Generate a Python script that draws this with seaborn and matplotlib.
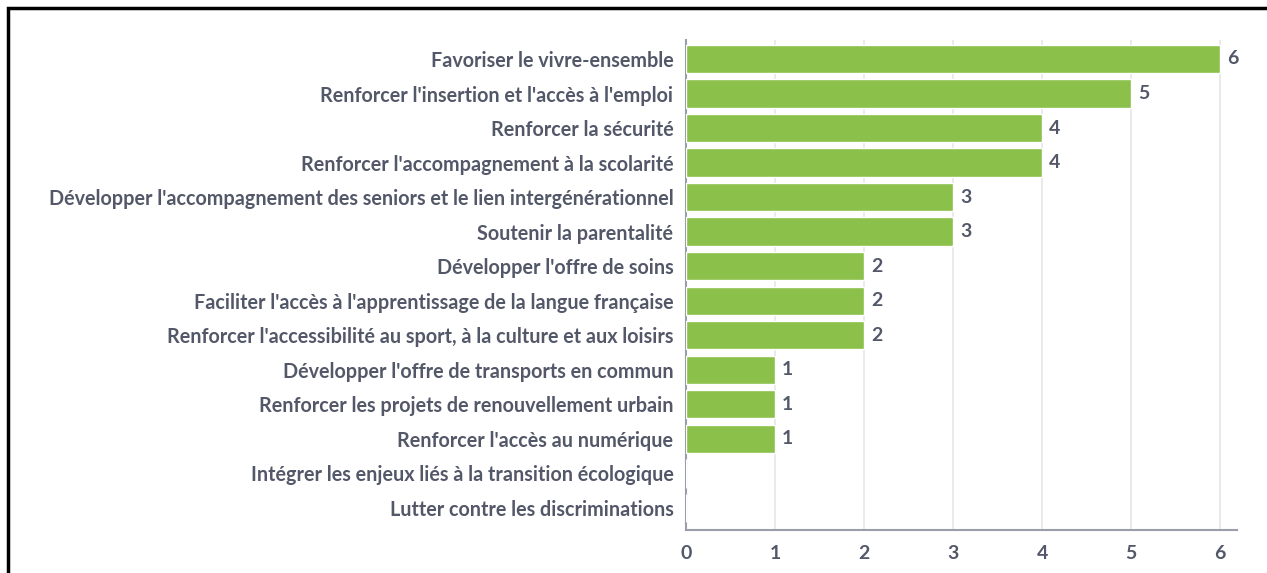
import matplotlib
matplotlib.use('Agg')
import matplotlib.pyplot as plt
import seaborn as sns
import pandas as pd
from matplotlib.patches import Rectangle

categories = [
    "Favoriser le vivre-ensemble",
    "Renforcer l'insertion et l'accès à l'emploi",
    "Renforcer la sécurité",
    "Renforcer l'accompagnement à la scolarité",
    "Développer l'accompagnement des seniors et le lien intergénérationnel",
    "Soutenir la parentalité",
    "Développer l'offre de soins",
    "Faciliter l'accès à l'apprentissage de la langue française",
    "Renforcer l'accessibilité au sport, à la culture et aux loisirs",
    "Développer l'offre de transports en commun",
    "Renforcer les projets de renouvellement urbain",
    "Renforcer l'accès au numérique",
    "Intégrer les enjeux liés à la transition écologique",
    "Lutter contre les discriminations",
]
values = [6, 5, 4, 4, 3, 3, 2, 2, 2, 1, 1, 1, 0, 0]
xticks = [0, 1, 2, 3, 4, 5, 6]

text_color = "#535869"
bar_color = "#8bc04b"

sns.set_style("white")
plt.rcParams['font.family'] = ['Lato', 'DejaVu Sans']

df = pd.DataFrame({"cat": categories, "val": values})

fig = plt.figure(figsize=(12.67, 5.73), dpi=100)
ax = fig.add_axes([686 / 1267, 1 - 530 / 573, (1237 - 686) / 1267, (530 - 40) / 573])

sns.barplot(data=df, x="val", y="cat", color=bar_color, saturation=1,
            width=0.82, ax=ax, zorder=3)

ax.set_xlim(0, 6.19)
ax.set_ylim(13.64, -0.55)
ax.set_xticks(xticks)
ax.set_xlabel("")
ax.set_ylabel("")
ax.xaxis.grid(True, color="#e6e6e6", linewidth=1.2, zorder=0)
ax.set_axisbelow(True)

for s in ["top", "right"]:
    ax.spines[s].set_visible(False)
for s in ["left", "bottom"]:
    ax.spines[s].set_color("#9a9ea8")
    ax.spines[s].set_linewidth(1.5)

ax.tick_params(axis="both", length=0)
ax.tick_params(axis="y", pad=9)
ax.tick_params(axis="x", pad=11)
for lab in ax.get_yticklabels():
    lab.set_fontsize(14.2)
    lab.set_fontweight("bold")
    lab.set_color(text_color)
for lab in ax.get_xticklabels():
    lab.set_fontsize(14)
    lab.set_fontweight("bold")
    lab.set_color(text_color)

for i, v in enumerate(values):
    if v > 0:
        ax.text(v + 0.08, i, str(v), va="center", ha="left", fontsize=14,
                fontweight="bold", color=text_color)

# black frame around the chart
fig.patches.append(Rectangle((8 / 1267, -0.1), 1.2, 1 - 8 / 573 + 0.1,
                             transform=fig.transFigure, fill=False,
                             edgecolor="black", linewidth=2.5))

fig.savefig("out.png", dpi=100)
